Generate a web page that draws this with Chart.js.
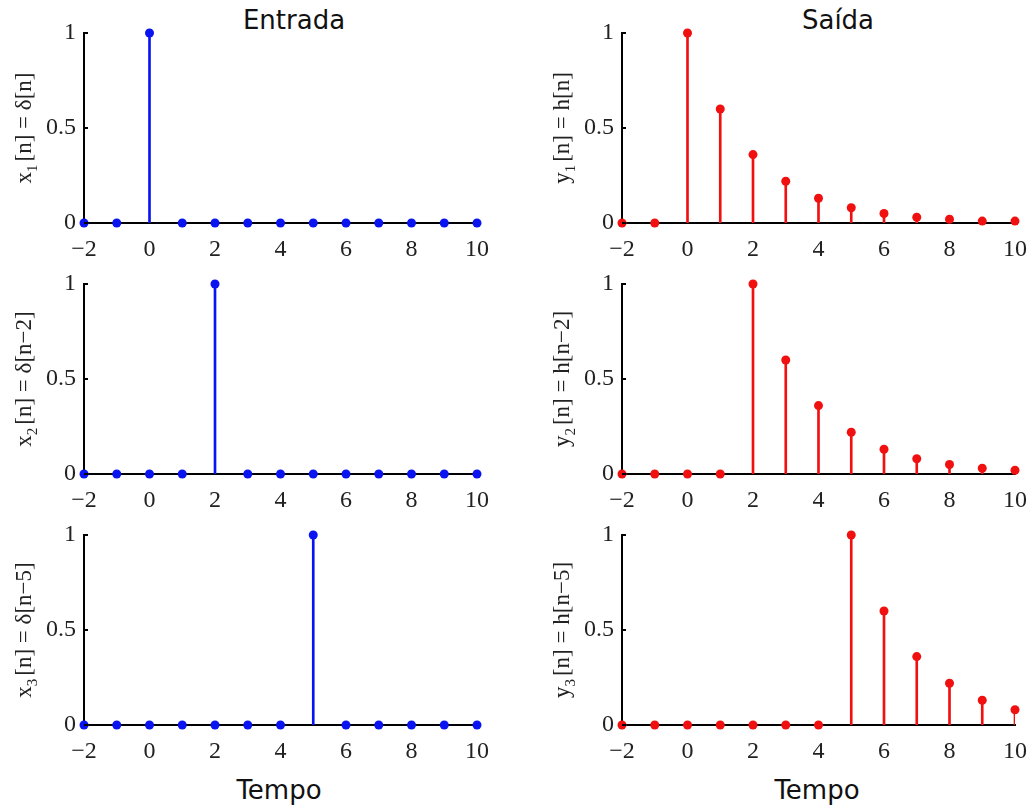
<!DOCTYPE html>
<html>
<head>
<meta charset="utf-8">
<script src="https://cdn.jsdelivr.net/npm/chart.js@4.4.0/dist/chart.umd.min.js"></script>
<style>
  body { margin: 0; background: #fff; width: 1031px; height: 809px; position: relative; overflow: hidden; }
  canvas { position: absolute; }
  .txt { position: absolute; font-family: "DejaVu Sans", Verdana, sans-serif; font-size: 26px; line-height: 30px; color: #111; transform: translateX(-50%); white-space: nowrap; }
</style>
</head>
<body>
<div class="txt" style="left:294px; top:5px;">Entrada</div>
<div class="txt" style="left:838px; top:5px;">Saída</div>
<div class="txt" style="left:279px; top:775px;">Tempo</div>
<div class="txt" style="left:817px; top:775px;">Tempo</div>

<canvas id="c1"></canvas>
<canvas id="c2"></canvas>
<canvas id="c3"></canvas>
<canvas id="c4"></canvas>
<canvas id="c5"></canvas>
<canvas id="c6"></canvas>

<script>
// amostras n
const n = [-2, -1, 0, 1, 2, 3, 4, 5, 6, 7, 8, 9, 10];

// entradas (impulsos)
const x1 = [0, 0, 1, 0, 0, 0, 0, 0, 0, 0, 0, 0, 0];
const x2 = [0, 0, 0, 0, 1, 0, 0, 0, 0, 0, 0, 0, 0];
const x3 = [0, 0, 0, 0, 0, 0, 0, 1, 0, 0, 0, 0, 0];

// saidas (resposta ao impulso deslocada)
const y1 = [0, 0, 1, 0.6, 0.36, 0.22, 0.13, 0.08, 0.05, 0.03, 0.02, 0.01, 0.01];
const y2 = [0, 0, 0, 0, 1, 0.6, 0.36, 0.22, 0.13, 0.08, 0.05, 0.03, 0.02];
const y3 = [0, 0, 0, 0, 0, 0, 0, 1, 0.6, 0.36, 0.22, 0.13, 0.08];

const xTicks = [-2, 0, 2, 4, 6, 8, 10];
const yTicks = [0, 0.5, 1];

// labels: [base, subscript, rest]
const labels = [
  ['x', '1', '[n] = δ[n]'],
  ['y', '1', '[n] = h[n]'],
  ['x', '2', '[n] = δ[n\u22122]'],
  ['y', '2', '[n] = h[n\u22122]'],
  ['x', '3', '[n] = δ[n\u22125]'],
  ['y', '3', '[n] = h[n\u22125]']
];

const AXW = 84, PADT = 20, PADR = 20, AXH = 42;
const areas = [
  { left: 84, top: 33 }, { left: 622, top: 33 },
  { left: 84, top: 284 }, { left: 622, top: 284 },
  { left: 84, top: 535 }, { left: 622, top: 535 }
];
const areaW = 393, areaH = 190;
const serif = '"Liberation Serif", "Times New Roman", serif';

const labelPlugin = {
  id: 'yLabelSub',
  afterDraw(chart, args, opts) {
    const ctx = chart.ctx;
    const a = chart.chartArea;
    // kleine tick streepjes naar binnen
    const ys = chart.scales.y;
    ctx.save();
    ctx.strokeStyle = '#000';
    ctx.lineWidth = 2;
    yTicks.forEach(v => {
      const p = ys.getPixelForValue(v);
      ctx.beginPath();
      ctx.moveTo(a.left, p);
      ctx.lineTo(a.left + 4, p);
      ctx.stroke();
    });
    ctx.restore();

    const parts = opts.parts;
    const big = '23px ' + serif, small = '15px ' + serif;
    ctx.save();
    ctx.translate(25, (a.top + a.bottom) / 2);
    ctx.rotate(-Math.PI / 2);
    ctx.fillStyle = '#222';
    ctx.textBaseline = 'middle';
    ctx.font = big;
    const w0 = ctx.measureText(parts[0]).width;
    const w2 = ctx.measureText(parts[2]).width;
    ctx.font = small;
    const w1 = ctx.measureText(parts[1]).width;
    let x = -(w0 + w1 + w2 + 3) / 2;
    ctx.font = big;
    ctx.fillText(parts[0], x, 0);
    x += w0;
    ctx.font = small;
    ctx.fillText(parts[1], x, 8);
    x += w1 + 3;
    ctx.font = big;
    ctx.fillText(parts[2], x, 0);
    ctx.restore();
  }
};

function maakStem(id, idx, values, color) {
  const a = areas[idx];
  const cv = document.getElementById(id);
  const w = areaW + AXW + PADR, h = areaH + PADT + AXH;
  cv.style.left = (a.left - AXW) + 'px';
  cv.style.top = (a.top - PADT) + 'px';
  cv.style.width = w + 'px';
  cv.style.height = h + 'px';
  cv.width = w;
  cv.height = h;

  const pts = n.map((v, i) => ({ x: v, y: values[i] }));

  new Chart(cv.getContext('2d'), {
    type: 'bar',
    data: {
      datasets: [{
        type: 'line',
        data: pts,
        showLine: false,
        pointRadius: 4.5,
        pointHoverRadius: 4.5,
        pointBackgroundColor: color,
        pointBorderWidth: 0,
        clip: false,
        order: 0
      }, {
        type: 'bar',
        data: pts,
        backgroundColor: color,
        barThickness: 2,
        grouped: false,
        order: 1
      }]
    },
    options: {
      responsive: false,
      animation: false,
      events: [],
      layout: { padding: { top: PADT, right: PADR, left: 0, bottom: 0 } },
      plugins: {
        legend: { display: false },
        tooltip: { enabled: false },
        yLabelSub: { parts: labels[idx] }
      },
      scales: {
        x: {
          type: 'linear',
          offset: false,
          min: -2, max: 10,
          afterFit: s => { s.height = AXH; s.paddingLeft = 0; s.paddingRight = 0; },
          afterBuildTicks: s => { s.ticks = xTicks.map(v => ({ value: v })); },
          grid: { display: false, drawTicks: false },
          border: { display: true, color: '#000', width: 2 },
          ticks: {
            padding: 12,
            color: '#222',
            font: { family: serif, size: 24 },
            callback: v => String(v).replace('-', '\u2212')
          }
        },
        y: {
          min: 0, max: 1,
          afterFit: s => { s.width = AXW; s.paddingTop = 0; s.paddingBottom = 0; },
          afterBuildTicks: s => { s.ticks = yTicks.map(v => ({ value: v })); },
          grid: { display: false, drawTicks: false },
          border: { display: true, color: '#000', width: 2 },
          ticks: {
            padding: 8,
            color: '#222',
            font: { family: serif, size: 24 },
            callback: v => String(v)
          }
        }
      }
    },
    plugins: [labelPlugin]
  });
}

const blauw = '#0a14f0';
const rood = '#f01010';
maakStem('c1', 0, x1, blauw);
maakStem('c2', 1, y1, rood);
maakStem('c3', 2, x2, blauw);
maakStem('c4', 3, y2, rood);
maakStem('c5', 4, x3, blauw);
maakStem('c6', 5, y3, rood);
</script>
</body>
</html>
